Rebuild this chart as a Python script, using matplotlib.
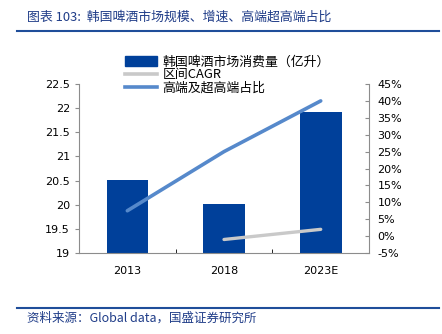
import matplotlib.pyplot as plt
from matplotlib.patches import Patch
from matplotlib.lines import Line2D

plt.rcParams['font.family'] = ['DejaVu Sans', 'Noto Sans CJK SC']

years = ['2013', '2018', '2023E']
volume = [20.52, 20.02, 21.92]          # 亿升
cagr_x = [1, 2]
cagr = [-1.0, 2.0]                       # %
premium = [7.5, 25.0, 40.0]              # %

bar_color = '#00409A'
line_color = '#5689CB'
gray_color = '#C9C9C9'
text_blue = '#1F3C88'
cjk = ['Noto Sans CJK SC', 'DejaVu Sans']

fig = plt.figure(figsize=(4.42, 3.34), dpi=100)
ax = fig.add_axes([0.1787, 0.2425, 0.6563, 0.506])
ax2 = ax.twinx()

x = range(len(years))
ax.bar(x, volume, width=0.43, color=bar_color, zorder=2)
ax.set_ylim(19, 22.5)
ax.set_yticks([19, 19.5, 20, 20.5, 21, 21.5, 22, 22.5])
ax.set_yticklabels(['19', '19.5', '20', '20.5', '21', '21.5', '22', '22.5'])
ax.set_xlim(-0.5, 2.5)
ax.set_xticks(list(x))
ax.set_xticklabels(years)
ax.set_xticks([0.5, 1.5], minor=True)

ax2.plot(cagr_x, cagr, color=gray_color, lw=2.4, solid_capstyle='round', zorder=3)
ax2.plot(list(x), premium, color=line_color, lw=2.6, solid_capstyle='round', zorder=3)
ax2.set_ylim(-5, 45)
ax2.set_yticks(range(-5, 50, 5))
ax2.set_yticklabels([f'{v}%' for v in range(-5, 50, 5)])

for a in (ax, ax2):
    for s in a.spines.values():
        s.set_color('#8C8C8C')
        s.set_linewidth(0.8)
    a.spines['top'].set_visible(False)
    a.tick_params(labelsize=8, colors='#8C8C8C', labelcolor='black', width=0.8)
ax.tick_params(axis='x', which='major', length=0, pad=9)
ax.tick_params(axis='x', which='minor', length=3, direction='in')
ax.tick_params(axis='y', length=3, direction='out')
ax2.tick_params(axis='y', length=3, direction='in', pad=6)
ax.spines['right'].set_visible(False)
ax2.spines['left'].set_visible(False)
ax2.spines['bottom'].set_visible(False)

handles = [Patch(facecolor=bar_color, edgecolor=bar_color),
           Line2D([], [], color=gray_color, lw=2.6),
           Line2D([], [], color=line_color, lw=2.6)]
labels = ['韩国啤酒市场消费量（亿升）', '区间CAGR', '高端及超高端占比']
fig.legend(handles, labels, loc='upper left', bbox_to_anchor=(0.283, 0.835),
           frameon=False, prop={'family': cjk, 'size': 9.3},
           handlelength=2.5, handleheight=0.8, handletextpad=0.4,
           labelspacing=0.02, borderaxespad=0, borderpad=0)

fig.text(0.06, 0.948, '图表 103:  韩国啤酒市场规模、增速、高端超高端占比',
         family=cjk, fontsize=9.3, style='italic', color=text_blue, va='center')
fig.add_artist(Line2D([0.038, 0.993], [0.907, 0.907], color='#1F4E9A', lw=1.5))
fig.add_artist(Line2D([0.038, 0.993], [0.078, 0.078], color='#1F4E9A', lw=1.5))
fig.text(0.06, 0.046, '资料来源：Global data，国盛证券研究所',
         family=cjk, fontsize=9, style='italic', color=text_blue, va='center')

fig.savefig('out.png', dpi=100)
